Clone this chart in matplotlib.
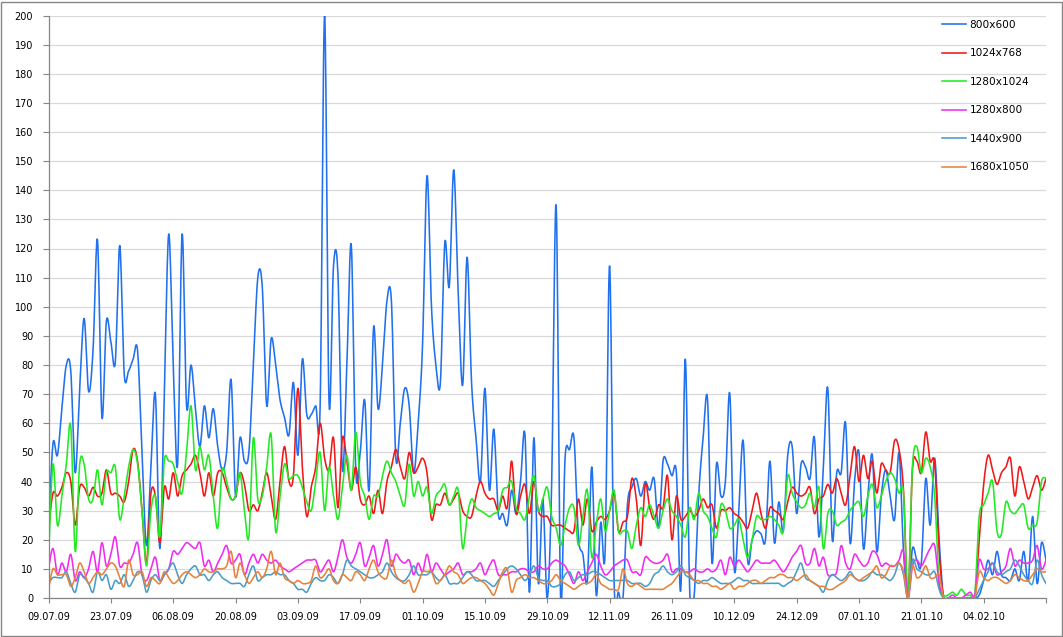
import datetime as dt
import numpy as np
import matplotlib
matplotlib.use("Agg")
import matplotlib.pyplot as plt
import matplotlib.dates as mdates
from matplotlib.patches import Rectangle

# ---------------- data ----------------
start_date = dt.date(2009, 7, 9)
n_days = 225
dates = [start_date + dt.timedelta(days=i) for i in range(n_days)]

tick_labels = ["09.07.09", "23.07.09", "06.08.09", "20.08.09", "03.09.09",
               "17.09.09", "01.10.09", "15.10.09", "29.10.09", "12.11.09",
               "26.11.09", "10.12.09", "24.12.09", "07.01.10", "21.01.10",
               "04.02.10"]

series_names = ["800x600", "1024x768", "1280x1024", "1280x800", "1440x900", "1680x1050"]

s800x600 = [
    23, 53, 49, 65, 80, 78, 43, 72, 96, 71,
    85, 123, 62, 95, 88, 81, 121, 77, 78, 82,
    85, 50, 18, 45, 70, 17, 70, 125, 80, 46,
    125, 66, 80, 65, 52, 66, 55, 65, 52, 44,
    50, 75, 35, 55, 47, 50, 80, 110, 107, 66,
    89, 80, 68, 62, 56, 74, 49, 82, 63, 63,
    66, 66, 200, 67, 114, 111, 44, 80, 121, 44,
    50, 68, 37, 93, 65, 80, 102, 102, 48, 60,
    72, 66, 43, 60, 87, 145, 100, 80, 74, 122,
    107, 147, 105, 73, 117, 74, 55, 40, 72, 37,
    58, 29, 29, 25, 37, 29, 40, 56, 2, 55,
    5, 34, 0, 40, 135, 0, 48, 51, 55, 21,
    15, 6, 45, 1, 26, 16, 114, 6, 2, 0,
    32, 38, 41, 35, 40, 37, 41, 24, 47, 46,
    42, 43, 3, 82, 2, 1, 35, 55, 68, 12,
    46, 35, 40, 70, 10, 30, 54, 13, 20, 23,
    22, 20, 47, 19, 33, 23, 49, 52, 29, 46,
    45, 41, 55, 21, 45, 72, 20, 43, 43, 60,
    19, 40, 50, 17, 35, 49, 16, 35, 44, 35,
    27, 50, 16, 0, 17, 13, 12, 41, 25, 48,
    20, 0, 0, 0, 0, 0, 0, 0, 0, 1,
    6, 13, 8, 16, 8, 7, 6, 10, 6, 16,
    6, 28, 5, 19, 13]

s1024x768 = [
    24, 36, 35, 38, 43, 40, 25, 38, 38, 35,
    38, 35, 36, 44, 36, 36, 35, 33, 40, 51,
    47, 30, 12, 36, 35, 19, 38, 34, 43, 35,
    42, 44, 46, 49, 43, 35, 43, 35, 43, 43,
    38, 34, 35, 43, 39, 30, 32, 30, 36, 43,
    35, 27, 40, 52, 40, 42, 72, 45, 28, 38,
    45, 60, 48, 44, 55, 31, 55, 47, 37, 45,
    34, 32, 35, 29, 37, 29, 40, 45, 51, 45,
    41, 50, 43, 45, 48, 43, 27, 32, 32, 36,
    32, 34, 36, 30, 28, 28, 35, 40, 36, 34,
    34, 30, 35, 31, 47, 29, 35, 39, 29, 40,
    30, 28, 28, 25, 25, 25, 24, 23, 23, 34,
    25, 34, 23, 26, 28, 27, 30, 36, 23, 26,
    28, 41, 34, 18, 39, 31, 27, 32, 31, 42,
    20, 35, 27, 28, 30, 28, 30, 34, 31, 32,
    24, 30, 30, 31, 29, 28, 26, 24, 30, 36,
    29, 24, 31, 30, 29, 27, 33, 38, 36, 35,
    36, 38, 29, 34, 35, 39, 36, 41, 36, 32,
    42, 52, 40, 49, 41, 47, 36, 46, 44, 43,
    54, 51, 37, 0, 44, 47, 43, 57, 47, 46,
    16, 0, 0, 0, 0, 0, 0, 0, 0, 20,
    39, 49, 44, 39, 43, 45, 48, 35, 45, 40,
    34, 38, 42, 37, 41]

s1280x1024 = [
    13, 46, 25, 35, 46, 59, 16, 46, 46, 34,
    34, 44, 32, 43, 43, 45, 27, 35, 45, 51,
    46, 30, 11, 30, 35, 21, 47, 47, 46, 40,
    36, 50, 66, 44, 52, 44, 49, 35, 24, 44,
    40, 34, 35, 43, 30, 21, 55, 34, 35, 45,
    56, 23, 35, 46, 41, 42, 42, 38, 33, 30,
    40, 50, 30, 45, 35, 27, 38, 49, 37, 57,
    40, 35, 27, 35, 35, 42, 47, 43, 40, 35,
    32, 46, 35, 40, 35, 38, 29, 35, 37, 39,
    32, 35, 37, 17, 28, 34, 31, 30, 29, 28,
    29, 30, 37, 38, 40, 31, 29, 27, 35, 42,
    30, 34, 38, 28, 24, 18, 25, 31, 31, 18,
    28, 37, 14, 25, 34, 23, 30, 37, 23, 23,
    23, 17, 25, 31, 28, 32, 28, 24, 30, 34,
    30, 28, 25, 21, 31, 27, 36, 30, 28, 24,
    21, 32, 30, 24, 25, 27, 20, 14, 20, 28,
    27, 27, 28, 27, 25, 23, 42, 36, 33, 31,
    32, 36, 31, 38, 17, 29, 30, 25, 26, 27,
    30, 32, 33, 28, 35, 39, 31, 35, 40, 43,
    41, 36, 36, 0, 45, 52, 43, 48, 45, 35,
    5, 1, 1, 2, 1, 3, 1, 1, 1, 28,
    32, 36, 40, 23, 22, 33, 30, 29, 31, 32,
    24, 25, 26, 40, 41]

s1280x800 = [
    10, 17, 8, 12, 9, 15, 6, 9, 7, 10,
    16, 9, 19, 11, 15, 21, 11, 12, 12, 15,
    19, 8, 6, 10, 14, 6, 8, 10, 16, 15,
    17, 19, 18, 17, 19, 11, 13, 9, 12, 15,
    18, 12, 13, 15, 8, 12, 15, 12, 15, 13,
    12, 13, 11, 10, 9, 10, 11, 12, 13, 13,
    13, 9, 11, 13, 9, 14, 20, 14, 12, 15,
    19, 11, 14, 18, 11, 15, 20, 11, 15, 13,
    12, 13, 8, 12, 9, 15, 9, 12, 10, 8,
    9, 10, 12, 8, 9, 9, 10, 12, 8, 11,
    13, 8, 8, 8, 9, 9, 10, 10, 9, 9,
    11, 10, 10, 12, 13, 12, 11, 8, 5, 9,
    6, 9, 12, 15, 11, 8, 9, 11, 12, 13,
    13, 9, 9, 8, 14, 13, 12, 12, 13, 15,
    9, 10, 10, 9, 9, 10, 9, 9, 10, 9,
    10, 13, 8, 14, 11, 13, 11, 9, 11, 13,
    12, 12, 12, 13, 11, 9, 11, 14, 16, 18,
    12, 12, 17, 11, 14, 8, 8, 9, 18, 12,
    10, 15, 13, 11, 12, 16, 15, 11, 12, 11,
    11, 13, 16, 0, 11, 13, 11, 14, 17, 18,
    5, 0, 0, 1, 0, 0, 1, 2, 1, 13,
    10, 10, 12, 8, 9, 11, 17, 11, 13, 12,
    12, 13, 18, 10, 13]

s1440x900 = [
    5, 7, 7, 7, 9, 5, 2, 8, 7, 5,
    2, 9, 6, 8, 3, 6, 5, 8, 4, 6,
    9, 8, 2, 6, 8, 6, 8, 10, 12, 8,
    5, 8, 10, 11, 8, 8, 6, 8, 9, 7,
    6, 5, 5, 5, 4, 8, 11, 6, 7, 8,
    8, 9, 8, 8, 6, 5, 3, 3, 2, 5,
    7, 6, 6, 8, 7, 5, 8, 13, 11, 10,
    9, 8, 7, 7, 8, 9, 12, 9, 7, 6,
    6, 8, 11, 8, 8, 8, 9, 7, 6, 8,
    5, 5, 5, 7, 9, 8, 6, 6, 6, 5,
    4, 6, 8, 10, 11, 10, 8, 6, 8, 11,
    7, 6, 6, 4, 4, 5, 8, 9, 6, 7,
    8, 8, 9, 9, 8, 7, 6, 6, 6, 6,
    6, 5, 5, 5, 4, 5, 8, 9, 11, 9,
    8, 9, 11, 8, 7, 6, 5, 6, 6, 7,
    6, 5, 5, 5, 6, 7, 6, 6, 5, 5,
    5, 5, 5, 5, 5, 4, 5, 6, 9, 12,
    7, 6, 5, 4, 2, 6, 8, 7, 6, 7,
    9, 7, 6, 6, 7, 9, 8, 8, 7, 6,
    8, 12, 8, 0, 13, 10, 9, 8, 8, 9,
    3, 0, 0, 0, 0, 0, 0, 0, 0, 3,
    6, 9, 12, 9, 8, 9, 10, 13, 11, 8,
    6, 5, 13, 8, 5]

s1680x1050 = [
    3, 10, 8, 8, 8, 4, 7, 12, 9, 5,
    7, 9, 8, 10, 12, 11, 7, 4, 13, 8,
    8, 9, 4, 7, 6, 5, 9, 7, 5, 6,
    8, 9, 8, 7, 8, 10, 9, 9, 10, 10,
    11, 16, 7, 12, 8, 5, 7, 9, 7, 10,
    16, 8, 12, 7, 6, 5, 6, 5, 5, 6,
    11, 7, 8, 10, 6, 5, 8, 7, 6, 9,
    8, 6, 10, 13, 9, 7, 7, 13, 8, 6,
    5, 6, 2, 5, 9, 9, 9, 5, 6, 8,
    11, 9, 8, 5, 6, 7, 7, 6, 5, 3,
    1, 5, 9, 10, 2, 6, 7, 8, 7, 7,
    6, 5, 5, 6, 8, 6, 5, 4, 3, 4,
    5, 5, 6, 8, 5, 4, 3, 3, 3, 10,
    5, 4, 5, 4, 3, 3, 3, 3, 3, 4,
    5, 7, 9, 9, 8, 6, 6, 5, 5, 4,
    4, 3, 4, 5, 3, 4, 4, 5, 6, 6,
    5, 6, 7, 7, 8, 8, 7, 7, 6, 7,
    8, 6, 5, 4, 4, 3, 3, 4, 5, 6,
    8, 7, 6, 7, 8, 9, 11, 7, 8, 11,
    11, 12, 9, 0, 11, 7, 8, 11, 7, 7,
    8, 0, 0, 0, 0, 0, 0, 0, 0, 9,
    7, 6, 7, 7, 6, 5, 6, 8, 7, 6,
    6, 8, 10, 9, 9]

series_values = [s800x600, s1024x768, s1280x1024, s1280x800, s1440x900, s1680x1050]
series_colors = ["#2070f0", "#f01818", "#22ea22", "#f02cf0", "#4b9dc6", "#e6823c"]


# ---------------- helpers ----------------
def smooth_curve(x, y, steps=12):
    """Excel-like smoothed line: cubic Bezier through every data point."""
    x = np.asarray(x, float)
    y = np.asarray(y, float)
    xe = np.concatenate([[x[0]], x, [x[-1]]])
    ye = np.concatenate([[y[0]], y, [y[-1]]])
    t = np.linspace(0, 1, steps, endpoint=False)
    xs, ys = [], []
    for i in range(len(x) - 1):
        p0x, p0y = xe[i], ye[i]
        p1x, p1y = xe[i + 1], ye[i + 1]
        p2x, p2y = xe[i + 2], ye[i + 2]
        p3x, p3y = xe[i + 3], ye[i + 3]
        c1x, c1y = p1x + (p2x - p0x) / 6, p1y + (p2y - p0y) / 6
        c2x, c2y = p2x - (p3x - p1x) / 6, p2y - (p3y - p1y) / 6
        a = (1 - t) ** 3
        b = 3 * (1 - t) ** 2 * t
        c = 3 * (1 - t) * t ** 2
        d = t ** 3
        xs.append(a * p1x + b * c1x + c * c2x + d * p2x)
        ys.append(a * p1y + b * c1y + c * c2y + d * p2y)
    xs.append([x[-1]])
    ys.append([y[-1]])
    return np.concatenate(xs), np.concatenate(ys)


# ---------------- figure ----------------
W, H = 1063, 637
fig = plt.figure(figsize=(W / 100, H / 100), dpi=100)
fig.patch.set_facecolor("white")

left_px, right_px, top_px, bottom_px = 48.5, 1046, 15.5, 598
ax = fig.add_axes([left_px / W, 1 - bottom_px / H,
                   (right_px - left_px) / W, (bottom_px - top_px) / H])

xnum = mdates.date2num(dates)
lines = []
for name, vals, col in zip(series_names, series_values, series_colors):
    sx, sy = smooth_curve(xnum, vals)
    ln, = ax.plot(sx, sy, color=col, lw=1.15, label=name, solid_joinstyle="round")
    lines.append(ln)

ax.set_xlim(xnum[0], xnum[-1])
ax.set_ylim(0, 200)
ax.set_yticks(np.arange(0, 201, 10))
ax.yaxis.grid(True, color="#d9d9d9", lw=0.9)
ax.set_axisbelow(True)

tick_pos = [xnum[i] for i in range(0, n_days, 14)]
ax.set_xticks(tick_pos)
ax.set_xticklabels(tick_labels + [""] * (len(tick_pos) - len(tick_labels)))

for s in ("top", "right"):
    ax.spines[s].set_visible(False)
for s in ("left", "bottom"):
    ax.spines[s].set_color("#868686")
    ax.spines[s].set_linewidth(0.9)

ax.tick_params(axis="y", direction="out", length=4, width=0.8, color="#868686",
               labelsize=7, pad=7, labelcolor="#000000")
ax.tick_params(axis="x", direction="out", length=3.5, width=0.8, color="#868686",
               labelsize=7, pad=6.5, labelcolor="#000000")

leg = fig.legend(handles=lines, loc="upper left",
                 bbox_to_anchor=(942 / W, 1 - 20 / H),
                 frameon=False, fontsize=7.6, handlelength=2.3,
                 handletextpad=0.3, labelspacing=1.75, borderpad=0,
                 borderaxespad=0)

fig.patches.append(Rectangle((0.7 / W, 1.5 / H), (W - 2.2) / W, (H - 3) / H,
                             transform=fig.transFigure, fill=False,
                             edgecolor="#868686", lw=1.0))

fig.savefig("out.png", dpi=100)
